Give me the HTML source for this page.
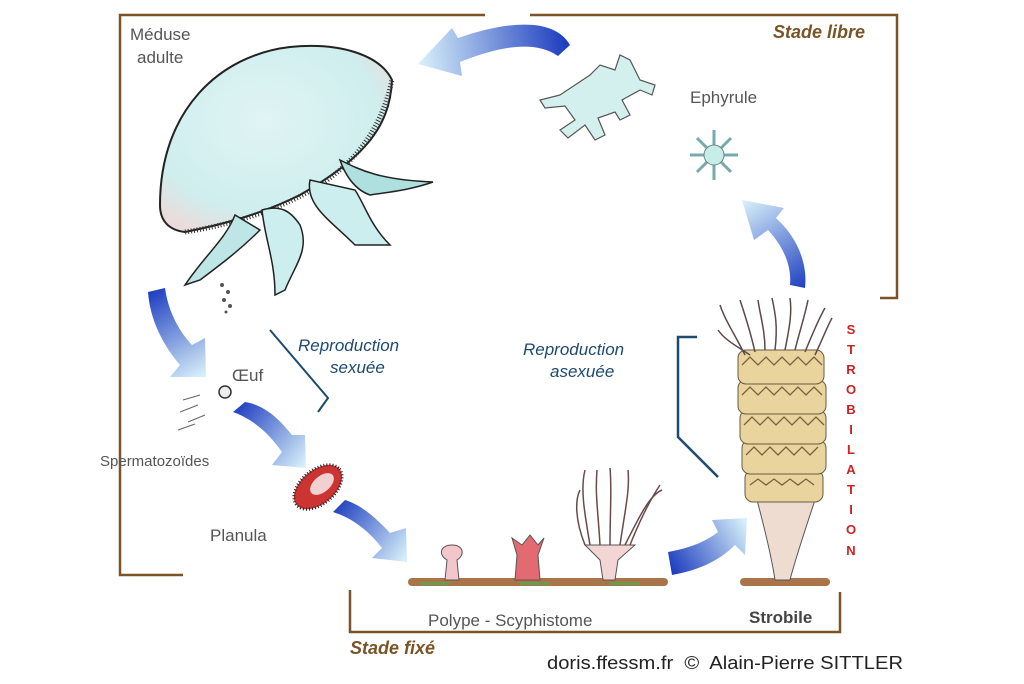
<!DOCTYPE html>
<html><head><meta charset="utf-8"><style>
html,body{margin:0;padding:0;background:#fff}
svg{display:block}
text{font-family:"Liberation Sans",sans-serif}
</style></head><body>
<svg width="1024" height="684" viewBox="0 0 1024 684" xmlns="http://www.w3.org/2000/svg">
<defs>
<linearGradient id="g1" gradientUnits="userSpaceOnUse" x1="565" y1="45" x2="420" y2="62"><stop offset="0" stop-color="#2040c0"/><stop offset="1" stop-color="#d8f0fa"/></linearGradient>
<linearGradient id="g2" gradientUnits="userSpaceOnUse" x1="800" y1="290" x2="745" y2="200"><stop offset="0" stop-color="#2040c0"/><stop offset="1" stop-color="#d8f0fa"/></linearGradient>
<linearGradient id="g3" gradientUnits="userSpaceOnUse" x1="155" y1="290" x2="205" y2="375"><stop offset="0" stop-color="#2040c0"/><stop offset="1" stop-color="#d8f0fa"/></linearGradient>
<linearGradient id="g4" gradientUnits="userSpaceOnUse" x1="235" y1="408" x2="305" y2="465"><stop offset="0" stop-color="#2040c0"/><stop offset="1" stop-color="#d8f0fa"/></linearGradient>
<linearGradient id="g5" gradientUnits="userSpaceOnUse" x1="335" y1="505" x2="405" y2="560"><stop offset="0" stop-color="#2040c0"/><stop offset="1" stop-color="#d8f0fa"/></linearGradient>
<linearGradient id="g6" gradientUnits="userSpaceOnUse" x1="670" y1="565" x2="745" y2="520"><stop offset="0" stop-color="#2040c0"/><stop offset="1" stop-color="#d8f0fa"/></linearGradient>
<radialGradient id="dome" cx="0.45" cy="0.4" r="0.7"><stop offset="0" stop-color="#e0f4f4"/><stop offset="0.7" stop-color="#cfeeee"/><stop offset="1" stop-color="#f0d8d8"/></radialGradient>
</defs>
<rect width="1024" height="684" fill="#fff"/>
<g fill="none" stroke="#7a5426" stroke-width="2.5">
<polyline points="485,15 120,15 120,575 183,575"/>
<polyline points="530,15 897,15 897,298 880,298"/>
<polyline points="350,590 350,632 840,632 840,592"/>
</g>
<!-- jellyfish -->
<path d="M160,205 C160,110 220,55 290,47 C340,42 380,55 392,80 C390,130 360,160 300,195 C260,215 220,225 185,232 C168,230 160,220 160,205Z" fill="url(#dome)" stroke="#222" stroke-width="2"/>
<path d="M185,232 C230,225 280,210 320,185 C350,165 380,135 392,80" fill="none" stroke="#333" stroke-width="5" stroke-dasharray="1 2"/>
<path d="M235,215 C225,240 205,255 185,285 L200,280 C220,265 240,250 260,230Z" fill="#bfe6e6" stroke="#222" stroke-width="1.5"/>
<path d="M262,210 C265,240 275,260 275,295 L285,290 C295,265 310,250 300,225 C290,210 280,205 262,210Z" fill="#cdeeee" stroke="#222" stroke-width="1.5"/>
<path d="M310,180 C305,205 330,220 355,245 L390,245 C370,225 365,205 355,190Z" fill="#cdeeee" stroke="#222" stroke-width="1.5"/>
<path d="M340,160 C360,170 380,180 433,182 C410,190 390,192 370,195 C355,190 345,175 340,160Z" fill="#aee0e0" stroke="#222" stroke-width="1.5"/>
<g fill="#555"><circle cx="222" cy="285" r="2"/><circle cx="228" cy="292" r="2"/><circle cx="224" cy="300" r="2"/><circle cx="230" cy="306" r="2"/><circle cx="226" cy="312" r="1.5"/></g>
<!-- ephyrule big -->
<path d="M560,95 L540,100 L545,108 L565,106 L575,120 L560,130 L568,138 L585,125 L595,140 L605,135 L598,118 L615,112 L620,120 L630,115 L622,100 L640,90 L652,95 L655,85 L640,80 L630,60 L620,55 L615,70 L600,65 L590,75 Z" fill="#d4f0ee" stroke="#555" stroke-width="1.2"/>
<g stroke="#7aa" stroke-width="3"><line x1="690" y1="155" x2="738" y2="155"/><line x1="714" y1="130" x2="714" y2="180"/><line x1="697" y1="138" x2="731" y2="172"/><line x1="731" y1="138" x2="697" y2="172"/></g>
<circle cx="714" cy="155" r="10" fill="#c8ecea" stroke="#688"/>
<!-- arrows -->
<path d="M570,45 C555,18 510,20 458,38 L452,28 L418,64 L462,76 L460,62 C500,46 535,40 558,56 Z" fill="url(#g1)"/>
<path d="M805,288 L790,285 C792,262 780,243 768,230 L754,240 L742,200 L784,208 L776,218 C796,236 808,262 805,288Z" fill="url(#g2)"/>
<path d="M148,292 L165,288 C168,310 178,330 192,345 L205,338 L206,377 L170,377 L180,365 C163,345 150,320 148,292Z" fill="url(#g3)"/>
<path d="M233,412 L245,402 C265,405 280,420 292,435 L305,435 L306,468 L272,465 L282,452 C270,435 255,420 233,412Z" fill="url(#g4)"/>
<path d="M333,512 L345,500 C362,505 378,520 390,533 L406,528 L407,562 L372,558 L382,548 C368,530 352,518 333,512Z" fill="url(#g5)"/>
<path d="M668,552 C690,548 705,542 718,532 L712,520 L747,518 L745,555 L735,545 C720,560 700,570 672,575Z" fill="url(#g6)"/>
<!-- egg, sperm -->
<circle cx="225" cy="392" r="6" fill="#eee" stroke="#333" stroke-width="1.5"/>
<g stroke="#666" stroke-width="1"><line x1="183" y1="400" x2="200" y2="395"/><line x1="180" y1="412" x2="198" y2="405"/><line x1="188" y1="422" x2="205" y2="415"/><line x1="178" y1="430" x2="195" y2="424"/></g>
<!-- planula -->
<ellipse cx="318" cy="487" rx="28" ry="17" transform="rotate(-40 318 487)" fill="#c33" stroke="#222" stroke-width="3" stroke-dasharray="1 2"/>
<ellipse cx="322" cy="484" rx="14" ry="8" transform="rotate(-40 322 484)" fill="#f0d0d0"/>
<!-- ground -->
<g fill="#a9744a"><rect x="408" y="578" width="260" height="8" rx="4"/><rect x="740" y="578" width="90" height="8" rx="4"/></g>
<g fill="#6a9a4a"><rect x="420" y="582" width="30" height="3"/><rect x="520" y="582" width="30" height="3"/><rect x="610" y="582" width="30" height="3"/></g>
<!-- polyps -->
<path d="M445,580 L447,560 C438,555 440,545 452,545 C464,545 465,555 457,560 L459,580Z" fill="#f3c6cc" stroke="#555"/>
<path d="M515,580 L517,555 L512,538 L522,545 L530,535 L538,545 L544,538 L538,555 L540,580Z" fill="#e46a72" stroke="#555"/>
<path d="M603,580 L600,560 L585,545 L635,545 L618,560 L615,580Z" fill="#f3d5d5" stroke="#555"/>
<g fill="none" stroke="#6a4a4a" stroke-width="1.5">
<path d="M590,545 C585,515 580,490 585,470"/><path d="M600,545 C598,510 595,495 597,470"/><path d="M610,545 C610,510 612,490 610,468"/><path d="M620,545 C625,510 630,490 628,470"/><path d="M630,545 C640,520 650,500 660,485"/><path d="M585,545 C575,520 575,500 580,490"/><path d="M625,545 C640,515 650,495 662,490"/>
</g>
<!-- strobile -->
<path d="M775,580 C772,560 765,530 757,500 L815,500 C805,530 795,560 790,580Z" fill="#efdcd0" stroke="#555"/>
<g fill="#e8d49c" stroke="#6a5a40" stroke-width="1">
<rect x="745" y="470" width="78" height="32" rx="8"/>
<rect x="742" y="440" width="84" height="34" rx="8"/>
<rect x="740" y="410" width="86" height="34" rx="8"/>
<rect x="738" y="380" width="88" height="34" rx="8"/>
<rect x="738" y="350" width="86" height="34" rx="8"/>
</g>
<g fill="none" stroke="#7a6040" stroke-width="1.3">
<path d="M742,365 l8,-8 l8,8 l8,-8 l8,8 l8,-8 l8,8 l8,-8 l8,8 l8,-8 l8,8"/>
<path d="M742,395 l8,-8 l8,8 l8,-8 l8,8 l8,-8 l8,8 l8,-8 l8,8 l8,-8 l8,8"/>
<path d="M744,425 l8,-8 l8,8 l8,-8 l8,8 l8,-8 l8,8 l8,-8 l8,8 l8,-8 l8,8"/>
<path d="M746,455 l8,-8 l8,8 l8,-8 l8,8 l8,-8 l8,8 l8,-8 l8,8 l8,-8"/>
<path d="M750,485 l8,-6 l8,6 l8,-6 l8,6 l8,-6 l8,6 l8,-6 l8,6"/>
</g>
<g fill="none" stroke="#5a4a4a" stroke-width="1.5">
<path d="M745,355 C735,335 725,320 720,305"/><path d="M755,352 C750,330 745,315 740,300"/><path d="M765,350 C765,330 760,315 758,300"/><path d="M775,350 C778,325 775,312 772,298"/><path d="M785,350 C790,325 792,312 790,298"/><path d="M795,350 C800,330 805,315 808,300"/><path d="M805,352 C812,335 818,320 825,308"/><path d="M815,355 C822,340 828,325 832,318"/><path d="M750,355 C735,345 725,340 718,330"/>
</g>
<!-- brackets -->
<polyline points="270,330 328,398 318,412" fill="none" stroke="#1d4a70" stroke-width="2"/>
<polyline points="697,337 678,337 678,437 718,477" fill="none" stroke="#1d4a70" stroke-width="2.5"/>
<!-- text -->
<g fill="#555" font-size="17">
<text x="130" y="40">Méduse</text><text x="137" y="63">adulte</text>
<text x="690" y="103">Ephyrule</text>
<text x="232" y="381">Œuf</text>
<text x="100" y="466" font-size="15">Spermatozoïdes</text>
<text x="210" y="541">Planula</text>
<text x="428" y="626">Polype - Scyphistome</text>
<text x="749" y="623" font-weight="bold" fill="#444">Strobile</text>
</g>
<g fill="#7a5426" font-size="18" font-weight="bold" font-style="italic">
<text x="773" y="38">Stade libre</text>
<text x="350" y="654">Stade fixé</text>
</g>
<g fill="#1d4a70" font-size="17" font-style="italic">
<text x="298" y="351">Reproduction</text><text x="330" y="373">sexuée</text>
<text x="523" y="355">Reproduction</text><text x="550" y="377">asexuée</text>
</g>
<g fill="#cc2222" font-size="13" font-weight="bold" text-anchor="middle">
<text x="851" y="334">S</text><text x="851" y="354">T</text><text x="851" y="374">R</text><text x="851" y="394">O</text><text x="851" y="414">B</text><text x="851" y="434">I</text><text x="851" y="454">L</text><text x="851" y="474">A</text><text x="851" y="494">T</text><text x="851" y="514">I</text><text x="851" y="534">O</text><text x="851" y="555">N</text>
</g>
<text x="547" y="669" font-size="18" fill="#222" textLength="356" lengthAdjust="spacingAndGlyphs" xml:space="preserve">doris.ffessm.fr  ©  Alain-Pierre SITTLER</text>
</svg>
</body></html>
